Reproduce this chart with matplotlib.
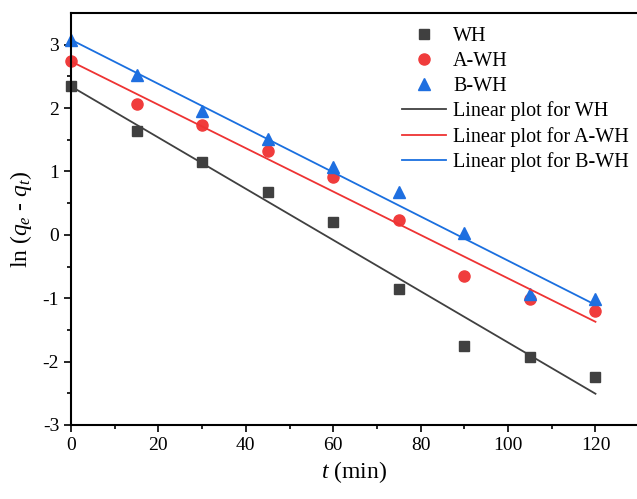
import numpy as np
import matplotlib
matplotlib.use("Agg")
import matplotlib.pyplot as plt

plt.rcParams['font.family'] = 'Liberation Serif'
plt.rcParams['mathtext.fontset'] = 'custom'
plt.rcParams['mathtext.rm'] = 'Liberation Serif'
plt.rcParams['mathtext.it'] = 'Liberation Serif:italic'
plt.rcParams['axes.unicode_minus'] = False

# time points (min)
t = [0, 15, 30, 45, 60, 75, 90, 105, 120]
# ln(qe - qt)
wh = [2.35, 1.64, 1.15, 0.68, 0.20, -0.85, -1.75, -1.92, -2.24]
a_wh = [2.74, 2.06, 1.73, 1.32, 0.91, 0.24, -0.65, -1.01, -1.20]
b_wh = [3.07, 2.52, 1.95, 1.51, 1.07, 0.68, 0.03, -0.94, -1.01]

fig = plt.figure(figsize=(6.37, 4.99), dpi=100)
ax = fig.add_axes([0.1115, 0.1483, 0.8885, 0.8257])

ax.plot(t, wh, 's', color='#404040', ms=7, clip_on=False, label='WH')
ax.plot(t, a_wh, 'o', color='#f03c3c', ms=8, clip_on=False, label='A-WH')
ax.plot(t, b_wh, '^', color='#1f6fe0', ms=8.5, clip_on=False, label='B-WH')

# linear fits
tt = np.array([0, 120])
for y, c, name in [(wh, '#404040', 'WH'), (a_wh, '#ee3333', 'A-WH'), (b_wh, '#1a6fdf', 'B-WH')]:
    k, b = np.polyfit(t, y, 1)
    ax.plot(tt, k * tt + b, '-', color=c, lw=1.3, label='Linear plot for ' + name)

ax.set_xlim(0, 129.5)
ax.set_ylim(-3, 3.5)
ax.set_xticks([0, 20, 40, 60, 80, 100, 120])
ax.set_xticks(np.arange(10, 130, 20), minor=True)
ax.set_yticks([-3, -2, -1, 0, 1, 2, 3])
ax.set_yticks(np.arange(-2.5, 3.5, 1), minor=True)
ax.tick_params(which='major', direction='out', length=5, width=1.2, labelsize=14)
ax.tick_params(which='minor', direction='out', length=3, width=1.2)
ax.spines['right'].set_visible(False)
for s in ['left', 'bottom', 'top']:
    ax.spines[s].set_linewidth(1.5)

ax.set_xlabel(r'$t$ (min)', fontsize=17, labelpad=4)
ax.set_ylabel(r'ln ($q_e$ - $q_t$)', fontsize=17, labelpad=6)

ax.legend(loc='upper right', frameon=False, fontsize=14.5, handlelength=2.2,
          labelspacing=0.28, handletextpad=0.35, borderaxespad=0.0,
          bbox_to_anchor=(1.0, 0.985))

fig.savefig('out.png', dpi=100)
